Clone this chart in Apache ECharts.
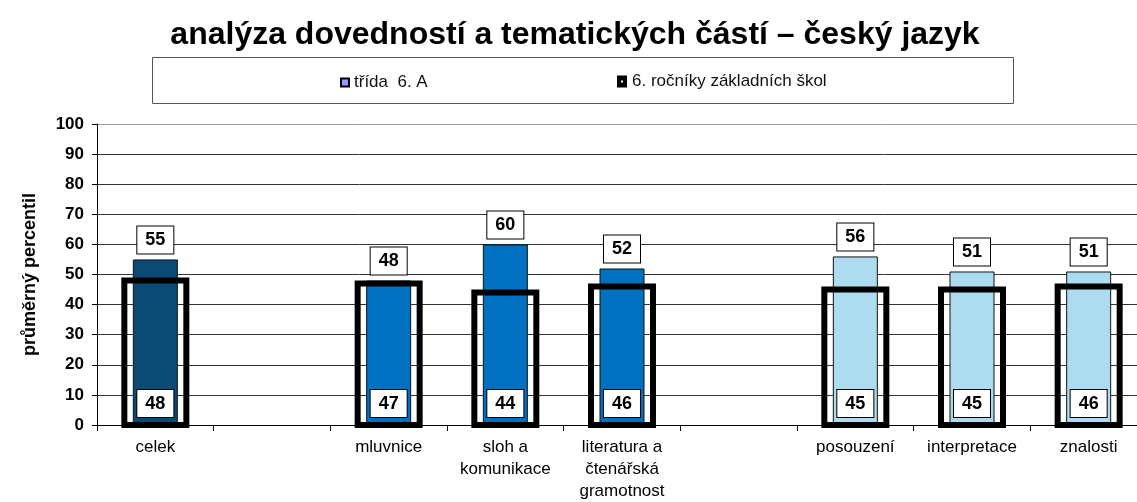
<!DOCTYPE html>
<html>
<head>
<meta charset="utf-8">
<script src="https://cdn.jsdelivr.net/npm/echarts@6/dist/echarts.min.js"></script>
<style>
  html, body { margin: 0; padding: 0; background: #fff; }
  #wrap { width: 1137px; height: 502px; overflow: hidden; }
  /* the original plot runs past the right edge of the picture */
  #main { width: 1150px; height: 502px; }
</style>
</head>
<body>
<div id="wrap"><div id="main"></div></div>
<script>
// data
var categories = ['celek', ' ', 'mluvnice', 'sloh a\nkomunikace', 'literatura a\nčtenářská\ngramotnost', '  ', 'posouzení', 'interpretace', 'znalosti'];
var tridaValues = [55, null, 48, 60, 52, null, 56, 51, 51];
var rocnikyValues = [48, null, 47, 44, 46, null, 45, 45, 46];
var yTicks = [0, 10, 20, 30, 40, 50, 60, 70, 80, 90, 100];

// colours by group (celek / mluvnice.. / posouzení..)
var barColors = ['#0B4A75', null, '#0070C0', '#0070C0', '#0070C0', null, '#ADDCF1', '#ADDCF1', '#ADDCF1'];

var font = 'Arial, "Liberation Sans", sans-serif';
var narrow = '"Liberation Sans Narrow", "Arial Narrow", Arial, sans-serif';

var myChart = echarts.init(document.getElementById('main'));

var gridColors = yTicks.map(function (v, i) { return i === yTicks.length - 1 ? '#9a9a9a' : '#333'; });

// [category index, value] pairs for the outline series
var rocnikyData = [];
rocnikyValues.forEach(function (v, i) { if (v != null) rocnikyData.push([i, v]); });

// hollow bar with the stroke centred on the value (as in the original)
function renderOutline(params, api) {
  var top = api.coord([api.value(0), api.value(1)]);
  var base = api.coord([api.value(0), 0]);
  var w = 62;
  return {
    type: 'group',
    children: [{
      type: 'rect',
      shape: { x: top[0] - w / 2, y: top[1], width: w, height: base[1] - top[1] },
      style: { fill: 'none', stroke: '#000', lineWidth: 6 }
    }, {
      type: 'text',
      x: top[0], y: base[1] - 8,
      style: {
        text: String(api.value(1)),
        align: 'center', verticalAlign: 'bottom',
        font: 'bold 18px ' + font,
        fill: '#000',
        backgroundColor: '#fff',
        borderColor: '#000',
        borderWidth: 1,
        padding: [5, 8, 4, 8]
      }
    }]
  };
}

var option = {
  animation: false,
  backgroundColor: '#fff',
  title: {
    text: 'analýza dovedností a tematických částí – český jazyk',
    left: 'center',
    top: 14,
    textStyle: { fontFamily: font, fontSize: 32, fontWeight: 'bold', color: '#000' }
  },
  graphic: [{
    type: 'rect',
    left: 152, top: 57,
    shape: { width: 861, height: 46 },
    style: { fill: '#fff', stroke: '#555', lineWidth: 1 },
    z: 0
  }],
  legend: [{
    left: 340, top: 74, padding: 0,
    itemWidth: 8, itemHeight: 8, itemGap: 0,
    textStyle: { fontFamily: narrow, fontSize: 17, color: '#111' },
    data: [{ name: 'třída  6. A', icon: 'rect', itemStyle: { color: '#9999FF', borderColor: '#000', borderWidth: 2 } }]
  }, {
    left: 617, top: 73, padding: 0,
    itemWidth: 10, itemHeight: 12, itemGap: 0,
    textStyle: { fontFamily: narrow, fontSize: 17, color: '#111' },
    data: [{ name: '6. ročníky základních škol', icon: 'path://M0,0H10V12H0Z M4,5V7H6V5Z', itemStyle: { color: '#000', borderWidth: 0 } }]
  }],
  grid: { left: 97, top: 124, width: 1050, height: 304, containLabel: false },
  xAxis: {
    type: 'category',
    data: categories,
    axisLine: { lineStyle: { color: '#000', width: 1 } },
    axisTick: { show: true, interval: 0, length: 6, lineStyle: { color: '#000' } },
    axisLabel: { interval: 0, margin: 11, fontFamily: font, fontSize: 17, lineHeight: 22, color: '#000' },
    splitLine: { show: false }
  },
  yAxis: {
    type: 'value',
    min: 0, max: 100, interval: 10,
    name: 'průměrný percentil',
    nameLocation: 'middle',
    nameGap: 58,
    nameRotate: 90,
    nameTextStyle: { fontFamily: font, fontSize: 18, fontWeight: 'bold', color: '#000' },
    axisLine: { show: true, lineStyle: { color: '#000' } },
    axisTick: { show: true, inside: false, length: 5, lineStyle: { color: '#000' } },
    axisLabel: { margin: 13, fontFamily: font, fontSize: 17, fontWeight: 'bold', color: '#000' },
    splitLine: { show: true, lineStyle: { color: gridColors, width: 1 } }
  },
  series: [{
    name: 'třída  6. A',
    type: 'bar',
    barWidth: 45,
    data: tridaValues,
    itemStyle: {
      color: function (p) { return barColors[p.dataIndex]; },
      borderColor: '#111',
      borderWidth: 1
    },
    label: {
      show: true,
      position: 'top',
      distance: 6,
      backgroundColor: '#fff',
      borderColor: '#000',
      borderWidth: 1,
      padding: [5, 8, 4, 8],
      fontFamily: font, fontSize: 18, fontWeight: 'bold', color: '#000'
    },
    z: 2
  }, {
    name: '6. ročníky základních škol',
    type: 'custom',
    renderItem: renderOutline,
    encode: { x: 0, y: 1 },
    data: rocnikyData,
    clip: false,
    z: 3
  }]
};

myChart.setOption(option);
window.onresize = myChart.resize;
</script>
</body>
</html>
